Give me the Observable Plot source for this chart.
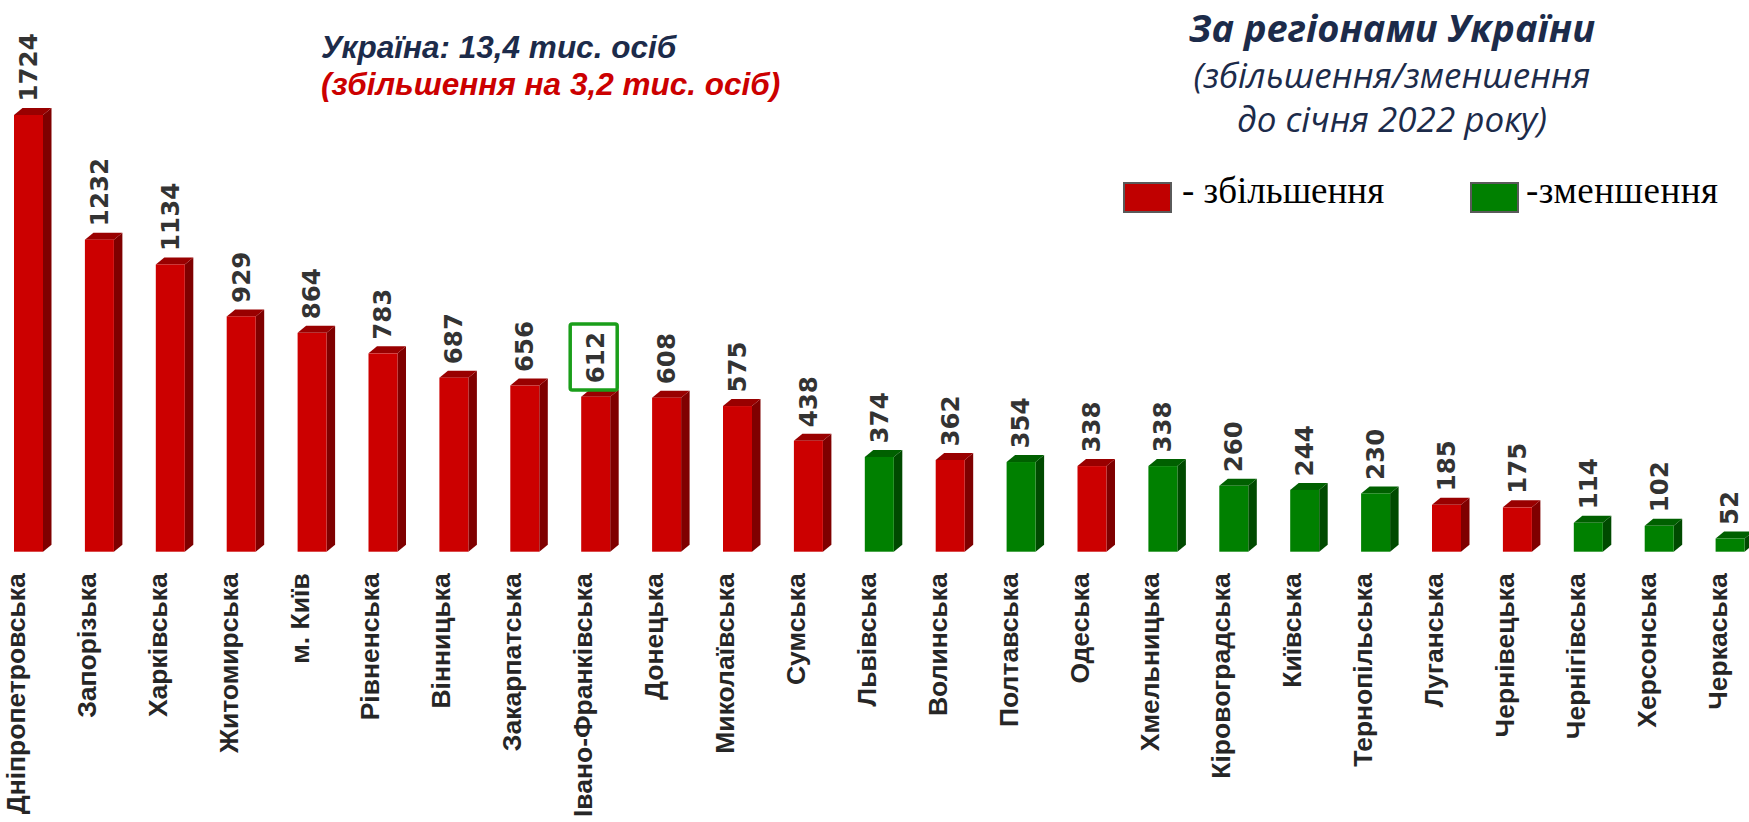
<!DOCTYPE html>
<html>
<head>
<meta charset="utf-8">
<script src="https://cdn.jsdelivr.net/npm/d3@7"></script>
<script src="https://cdn.jsdelivr.net/npm/@observablehq/plot@0.6"></script>
<style>
  body { margin: 0; background: #fff; }
  #wrap { position: relative; width: 1749px; height: 822px; overflow: hidden; background: #fff; }
  #wrap > svg { position: absolute; left: 0; top: 0; }
  .t { position: absolute; white-space: nowrap; }
  .box { position: absolute; box-sizing: border-box; border: 2px solid #5a5a5a; }
</style>
</head>
<body>
<div id="wrap">
  <div class="t" style="left:321px;top:32px;font:italic bold 31.5px/31.5px 'Liberation Sans',Arial,sans-serif;color:#1c2b4a;">Україна: 13,4 тис. осіб</div>
  <div class="t" style="left:321px;top:69px;font:italic bold 31.5px/31.5px 'Liberation Sans',Arial,sans-serif;color:#cc0000;">(збільшення на 3,2 тис. осіб)</div>
  <div class="t" style="left:1142px;width:500px;text-align:center;top:8px;font:italic bold 38px/38px 'Open Sans',sans-serif;color:#1c2b4a;">За регіонами України</div>
  <div class="t" style="left:1142px;width:500px;text-align:center;top:57px;font:italic 35px/35px 'Open Sans',sans-serif;color:#1c2b4a;">(збільшення/зменшення</div>
  <div class="t" style="left:1142px;width:500px;text-align:center;top:101px;font:italic 35px/35px 'Open Sans',sans-serif;color:#1c2b4a;">до січня 2022 року)</div>
  <div class="box" style="left:1123px;top:182px;width:49px;height:31px;background:#c00000;"></div>
  <div class="t" style="left:1182px;top:172px;font:37px/37px 'Liberation Serif','Times New Roman',serif;color:#000;">- збільшення</div>
  <div class="box" style="left:1470px;top:182px;width:49px;height:31px;background:#008000;"></div>
  <div class="t" style="left:1526px;top:172px;font:37px/37px 'Liberation Serif','Times New Roman',serif;color:#000;letter-spacing:0.5px;">-зменшення</div>
</div>
<script>
// ---- data ----
const regions = ["Дніпропетровська","Запорізька","Харківська","Житомирська","м. Київ","Рівненська","Вінницька","Закарпатська","Івано-Франківська","Донецька","Миколаївська","Сумська","Львівська","Волинська","Полтавська","Одеська","Хмельницька","Кіровоградська","Київська","Тернопільська","Луганська","Чернівецька","Чернігівська","Херсонська","Черкаська"];
const values = [1724,1232,1134,929,864,783,687,656,612,608,575,438,374,362,354,338,338,260,244,230,185,175,114,102,52];
const change = ["up","up","up","up","up","up","up","up","up","up","up","up","down","up","down","up","down","down","down","down","up","up","down","down","down"];
const highlighted = "Івано-Франківська";

// ---- styles ----
const frontColor = {up: "#cc0000", down: "#008000"};
const sideColor = {up: "#7f0000", down: "#004a00"};
const topColor = {up: "#990000", down: "#006000"};
const DEPTH_X = 8.5, DEPTH_Y = 7;

const data = regions.map((r, i) => ({region: r, value: values[i], change: change[i]}));

const chart = Plot.plot({
  width: 1749,
  height: 822,
  marginLeft: 14,
  marginRight: 4.4,
  marginTop: 115,
  marginBottom: 270.3,
  x: {domain: regions, paddingInner: 0.591, paddingOuter: 0, round: false, axis: null},
  y: {domain: [0, 1724], axis: null},
  color: {type: "identity"},
  marks: [
    Plot.barY(data, {x: "region", y: "value", fill: d => sideColor[d.change]}),
    Plot.barY(data, {x: "region", y1: "value", y2: "value", fill: d => topColor[d.change]}),
    Plot.barY(data, {x: "region", y: "value", fill: d => frontColor[d.change]}),
    Plot.text(data, {x: "region", y: "value", text: d => String(d.value), rotate: -90, textAnchor: "start", dy: -14,
      fontSize: 24.5, fontWeight: "bold", fontFamily: "'DejaVu Sans', Verdana, sans-serif", fill: "#333333"}),
    Plot.barY(data.filter(d => d.region === highlighted), {x: "region", y1: "value", y2: "value", fill: "none",
      stroke: "#1a9e1a", strokeWidth: 3.5, insetLeft: -9, insetRight: -9, insetTop: -33, insetBottom: -33,
      dx: -2, dy: -39.7, rx: 2}),
    Plot.text(data, {x: "region", frameAnchor: "bottom", text: "region", rotate: -90, textAnchor: "end", dy: 21, dx: -4,
      fontSize: 26.5, fontWeight: "bold", fontFamily: "'Liberation Sans', Arial, sans-serif", fill: "#262626"})
  ]
});

// turn side / top rectangles into oblique faces (3D look)
const sideFills = new Set(Object.values(sideColor));
const topFills = new Set(Object.values(topColor));
chart.querySelectorAll("rect").forEach(el => {
  const f = el.getAttribute("fill");
  const x = +el.getAttribute("x"), y = +el.getAttribute("y");
  const w = +el.getAttribute("width");
  if (sideFills.has(f)) {
    const xr = x + w, k = -DEPTH_Y / DEPTH_X;
    el.setAttribute("x", xr);
    el.setAttribute("width", DEPTH_X);
    el.setAttribute("transform", `matrix(1,${k},0,1,0,${-k * xr})`);
  } else if (topFills.has(f)) {
    const c = -DEPTH_X / DEPTH_Y;
    el.setAttribute("y", y - DEPTH_Y);
    el.setAttribute("height", DEPTH_Y);
    el.setAttribute("transform", `matrix(1,0,${c},1,${-c * y},0)`);
  }
});

document.getElementById("wrap").prepend(chart);
</script>
</body>
</html>
